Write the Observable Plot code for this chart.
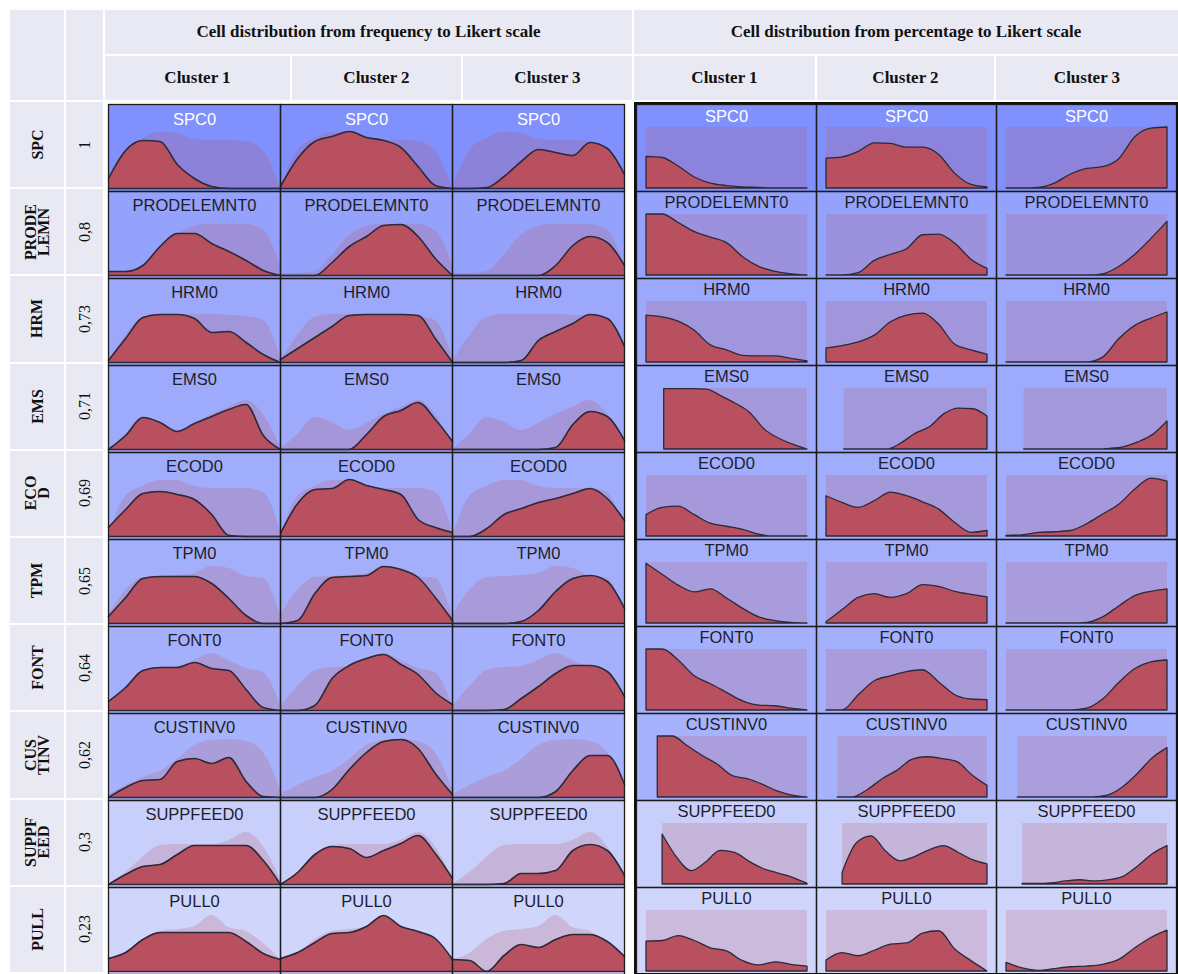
<!DOCTYPE html>
<html>
<head>
<meta charset="utf-8">
<script src="https://cdn.jsdelivr.net/npm/d3@7"></script>
<script src="https://cdn.jsdelivr.net/npm/@observablehq/plot@0.6"></script>
<style>
  html, body { margin: 0; padding: 0; background: #fff; }
  body { width: 1178px; height: 974px; overflow: hidden; position: relative; font-family: "Liberation Serif", "Times New Roman", serif; }
  .hc { position: absolute; background: #e9e9f4; display: flex; align-items: center; justify-content: center; color: #111; box-sizing: border-box; }
  .bold { font-weight: bold; font-size: 17px; }
  .rot { transform: rotate(-90deg); white-space: nowrap; text-align: center; }
  .rl { font-weight: bold; font-size: 16px; line-height: 13px; }
  .rv { font-size: 16px; }
  .panel { position: absolute; }
  .border { position: absolute; border: 2px solid #111; box-sizing: border-box; pointer-events: none; }
</style>
</head>
<body>
<script>
// ---------- labels ----------
const rows = ["SPC", "PRODELEMN", "HRM", "EMS", "ECOD", "TPM", "FONT", "CUSTINV", "SUPPFEED", "PULL"];
const rowLabels = [["SPC"], ["PRODE", "LEMN"], ["HRM"], ["EMS"], ["ECO", "D"], ["TPM"], ["FONT"], ["CUS", "TINV"], ["SUPPF", "EED"], ["PULL"]];
const cellTitles = ["SPC0", "PRODELEMNT0", "HRM0", "EMS0", "ECOD0", "TPM0", "FONT0", "CUSTINV0", "SUPPFEED0", "PULL0"];
const importance = [1, 0.8, 0.73, 0.71, 0.69, 0.65, 0.64, 0.62, 0.3, 0.23];
const importanceLabels = ["1", "0,8", "0,73", "0,71", "0,69", "0,65", "0,64", "0,62", "0,3", "0,23"];
const clusters = ["Cluster 1", "Cluster 2", "Cluster 3"];
const panelTitles = ["Cell distribution from frequency to Likert scale", "Cell distribution from percentage to Likert scale"];

// ---------- frequency panel: densities (11 samples across the Likert range) ----------
const freqOverall = [
  [0, 38, 50, 56, 55, 49, 48, 48, 47, 38, 0],
  [2, 2, 4, 20, 40, 49, 51, 51, 51, 45, 10],
  [0, 27, 45, 48, 48, 48, 48, 47, 46, 42, 5],
  [0, 15, 32, 27, 19, 26, 35, 42, 49, 35, 3],
  [0, 40, 50, 56, 56, 50, 48, 48, 48, 44, 5],
  [8, 33, 46, 47, 48, 50, 57, 55, 47, 45, 8],
  [4, 24, 40, 43, 44, 50, 57, 50, 42, 38, 5],
  [3, 12, 20, 26, 38, 52, 57, 58, 56, 45, 8],
  [0, 12, 27, 39, 40, 40, 40, 44, 52, 38, 5],
  [12, 18, 32, 40, 42, 45, 56, 44, 40, 28, 12]
];
const freqCluster1 = [
  [10, 38, 48, 47, 24, 10, 2, 0, 0, 0, 0],
  [4, 4, 10, 29, 42, 42, 32, 24, 15, 5, 0],
  [2, 24, 45, 48, 48, 44, 30, 31, 20, 8, 0],
  [0, 14, 32, 27, 18, 26, 33, 40, 45, 14, 0],
  [9, 27, 43, 45, 42, 37, 22, 1, 0, 0, 0],
  [7, 26, 45, 47, 47, 47, 40, 25, 8, 0, 0],
  [9, 23, 40, 43, 43, 48, 42, 40, 21, 3, 0],
  [0, 10, 17, 18, 36, 39, 34, 40, 16, 1, 0],
  [0, 10, 18, 20, 30, 39, 39, 39, 39, 24, 0],
  [13, 19, 32, 39, 39, 39, 39, 39, 30, 18, 12]
];
const freqCluster2 = [
  [2, 30, 47, 52, 57, 51, 48, 41, 22, 3, 0],
  [0, 0, 0, 13, 29, 39, 50, 51, 39, 17, 0],
  [3, 14, 25, 36, 47, 48, 48, 48, 47, 24, 0],
  [0, 0, 0, 0, 0, 15, 33, 39, 47, 30, 8],
  [3, 33, 47, 48, 57, 51, 47, 42, 17, 9, 4],
  [0, 3, 30, 46, 47, 48, 57, 54, 46, 26, 3],
  [0, 0, 5, 32, 45, 52, 56, 46, 36, 18, 6],
  [0, 0, 0, 8, 28, 45, 56, 58, 49, 24, 3],
  [0, 12, 30, 38, 36, 27, 34, 41, 49, 31, 6],
  [13, 19, 29, 38, 39, 45, 56, 45, 40, 33, 12]
];
const freqCluster3 = [
  [0, 0, 1, 12, 27, 39, 36, 33, 46, 40, 14],
  [0, 0, 0, 0, 0, 0, 10, 30, 39, 33, 10],
  [0, 0, 0, 0, 2, 22, 31, 39, 48, 44, 16],
  [0, 0, 0, 0, 0, 0, 2, 25, 38, 33, 9],
  [0, 0, 8, 22, 28, 34, 38, 43, 48, 38, 16],
  [0, 0, 0, 0, 2, 13, 32, 45, 48, 42, 15],
  [0, 0, 0, 1, 12, 24, 37, 45, 45, 39, 14],
  [0, 0, 0, 0, 0, 0, 6, 27, 42, 42, 13],
  [0, 0, 0, 1, 11, 11, 14, 34, 40, 34, 9],
  [12, 11, 0, 16, 27, 24, 32, 37, 37, 30, 15]
];

// ---------- percentage panel: range start and densities (% of panel max) ----------
const pctRangeStart = [0, 0, 0, 0.11, 0, 0, 0, 0.07, 0.1, 0];
const pctCluster1 = [
  [52, 50, 36, 18, 8, 4, 2, 1, 0, 0, 0],
  [100, 100, 86, 71, 62, 53, 30, 14, 6, 2, 0],
  [77, 74, 67, 52, 28, 20, 11, 10, 10, 6, 2],
  [99, 99, 99, 98, 87, 75, 60, 33, 18, 8, 0],
  [35, 47, 49, 35, 21, 16, 11, 3, 0, 0, 0],
  [98, 80, 62, 51, 56, 41, 24, 10, 4, 1, 0],
  [100, 100, 82, 56, 43, 29, 15, 8, 7, 3, 0],
  [100, 100, 84, 68, 54, 35, 30, 21, 10, 3, 0],
  [82, 44, 22, 36, 55, 52, 37, 25, 18, 11, 1],
  [49, 50, 58, 50, 38, 33, 17, 10, 15, 11, 8]
];
const pctCluster2 = [
  [49, 51, 60, 74, 73, 67, 67, 55, 24, 6, 2],
  [0, 0, 4, 24, 34, 43, 66, 67, 52, 26, 11],
  [23, 27, 33, 44, 66, 77, 80, 62, 29, 20, 13],
  [0, 0, 0, 0, 10, 26, 37, 58, 67, 66, 54],
  [66, 55, 47, 58, 72, 66, 56, 44, 22, 6, 9],
  [2, 22, 42, 48, 42, 48, 63, 60, 52, 47, 43],
  [0, 0, 25, 48, 56, 63, 66, 46, 25, 18, 17],
  [0, 0, 12, 30, 44, 62, 66, 63, 58, 36, 19],
  [19, 68, 79, 54, 38, 45, 56, 63, 52, 40, 33],
  [18, 30, 25, 34, 44, 46, 62, 66, 36, 17, 0]
];
const pctCluster3 = [
  [0, 0, 1, 8, 23, 32, 35, 48, 84, 98, 100],
  [0, 0, 0, 0, 0, 0, 2, 14, 34, 60, 88],
  [0, 0, 0, 0, 0, 0, 8, 38, 60, 72, 82],
  [0, 0, 0, 0, 0, 0, 1, 4, 12, 24, 46],
  [1, 2, 6, 7, 9, 20, 36, 52, 77, 95, 90],
  [0, 0, 0, 0, 0, 1, 10, 28, 45, 52, 56],
  [0, 0, 0, 0, 0, 3, 18, 45, 68, 79, 82],
  [0, 0, 0, 0, 0, 0, 3, 16, 38, 64, 81],
  [1, 1, 2, 5, 7, 5, 7, 13, 30, 50, 63],
  [14, 5, 1, 4, 7, 8, 11, 19, 38, 55, 67]
];

// ---------- styles ----------
const RED = "#b9505f";
const INK = "#2a2a3a";
const TITLE_INK = "#1d1d2b";
const SANS = "Liberation Sans, Arial, Helvetica, sans-serif";
const colorScale = {type: "linear", domain: [0.23, 1], range: ["#d0d5fb", "#8090fc"]};

// ---------- tidy data ----------
function tidy(arrs, cluster, starts) {
  const out = [];
  arrs.forEach((vals, i) => {
    const s = starts ? starts[i] : 0;
    vals.forEach((h, k) => out.push({row: rows[i], cluster, x: s + (1 - s) * k / (vals.length - 1), h}));
  });
  return out;
}
const freqData = [
  ...tidy(freqCluster1, clusters[0]),
  ...tidy(freqCluster2, clusters[1]),
  ...tidy(freqCluster3, clusters[2])
];
const ghostData = clusters.flatMap((c) => tidy(freqOverall, c));
const pctData = [
  ...tidy(pctCluster1, clusters[0], pctRangeStart),
  ...tidy(pctCluster2, clusters[1], pctRangeStart),
  ...tidy(pctCluster3, clusters[2], pctRangeStart)
];
const cells = clusters.flatMap((c) => rows.map((r, i) => ({
  row: r, cluster: c, value: importance[i], title: cellTitles[i], start: pctRangeStart[i]
})));
const darkCells = cells.filter((d) => d.value >= 0.95);
const lightCells = cells.filter((d) => d.value < 0.95);
const facet = {fx: "cluster", fy: "row"};

// ---------- HTML table frame ----------
const body = document.body;
function box(x, y, w, h, cls, html) {
  const d = document.createElement("div");
  d.className = cls;
  Object.assign(d.style, {left: x + "px", top: y + "px", width: w + "px", height: h + "px"});
  if (html != null) d.innerHTML = html;
  body.appendChild(d);
  return d;
}
box(10, 10, 54, 90, "hc");
box(66, 10, 37, 90, "hc");
box(105, 10, 527, 44, "hc bold", panelTitles[0]);
box(634, 10, 544, 44, "hc bold", panelTitles[1]);
const clusterX = [[105, 185], [292, 169], [463, 169], [634, 181], [817, 177], [996, 182]];
clusterX.forEach(([x, w], i) => box(x, 56, w, 44, "hc bold", clusters[i % 3]));

const top0 = 102, step = (974 - 102) / rows.length;
rows.forEach((r, i) => {
  const y = top0 + i * step;
  box(10, y, 54, step - 2, "hc", `<div class="rot rl">${rowLabels[i].join("<br>")}</div>`);
  box(66, y, 37, step - 2, "hc", `<div class="rot rv">${importanceLabels[i]}</div>`);
});

// ---------- frequency panel ----------
const leftPlot = Plot.plot({
  width: 516, height: 871, margin: 0,
  style: {overflow: "visible", background: "transparent", fontFamily: SANS},
  x: {domain: [0, 1], axis: null},
  y: {domain: [0, 84], insetBottom: 3, axis: null},
  fx: {domain: clusters, axis: null, padding: 0},
  fy: {domain: rows, axis: null, padding: 0},
  color: colorScale,
  marks: [
    Plot.rect(cells, {...facet, fill: "value"}),
    Plot.areaY(ghostData, {...facet, x: "x", y1: 0, y2: "h", fill: RED, fillOpacity: 0.22, curve: "monotone-x"}),
    Plot.areaY(freqData, {...facet, x: "x", y1: 0, y2: "h", fill: RED, curve: "monotone-x"}),
    Plot.lineY(freqData, {...facet, x: "x", y: "h", stroke: INK, strokeWidth: 1.6, curve: "monotone-x"}),
    Plot.ruleY([0], {stroke: INK, strokeWidth: 1.5}),
    Plot.frame({stroke: "#1b1b1b", strokeWidth: 1.3}),
    Plot.text(darkCells, {...facet, text: "title", frameAnchor: "top", lineAnchor: "middle", dy: 15, fill: "white", fontSize: 16.5, fontFamily: SANS}),
    Plot.text(lightCells, {...facet, text: "title", frameAnchor: "top", lineAnchor: "middle", dy: 14, fill: TITLE_INK, fontSize: 16.5, fontFamily: SANS})
  ]
});
const lp = document.createElement("div");
lp.className = "panel";
Object.assign(lp.style, {left: "108px", top: "103px"});
lp.appendChild(leftPlot);
body.appendChild(lp);

// ---------- percentage panel ----------
const rightPlot = Plot.plot({
  width: 542, height: 871, margin: 0,
  style: {overflow: "visible", background: "transparent", fontFamily: SANS},
  x: {domain: [0, 1], insetLeft: 10, insetRight: 9, axis: null},
  y: {domain: [0, 100], insetTop: 23, insetBottom: 3, axis: null},
  fx: {domain: clusters, axis: null, padding: 0},
  fy: {domain: rows, axis: null, padding: 0},
  color: colorScale,
  marks: [
    Plot.rect(cells, {...facet, fill: "value"}),
    Plot.rect(cells, {...facet, x1: "start", x2: 1, y1: 0, y2: 100, fill: RED, fillOpacity: 0.2}),
    Plot.areaY(pctData, {...facet, x: "x", y1: 0, y2: "h", fill: RED, stroke: INK, strokeWidth: 1.3, curve: "monotone-x"}),
    Plot.frame({stroke: "#1b1b1b", strokeWidth: 1.3}),
    Plot.text(darkCells, {...facet, text: "title", frameAnchor: "top", lineAnchor: "middle", dy: 12, fill: "white", fontSize: 16.5, fontFamily: SANS}),
    Plot.text(lightCells, {...facet, text: "title", frameAnchor: "top", lineAnchor: "middle", dy: 11, fill: TITLE_INK, fontSize: 16.5, fontFamily: SANS})
  ]
});
const rp = document.createElement("div");
rp.className = "panel";
Object.assign(rp.style, {left: "635px", top: "103px"});
rp.appendChild(rightPlot);
body.appendChild(rp);
box(634, 102, 544, 873, "border");
</script>
</body>
</html>
